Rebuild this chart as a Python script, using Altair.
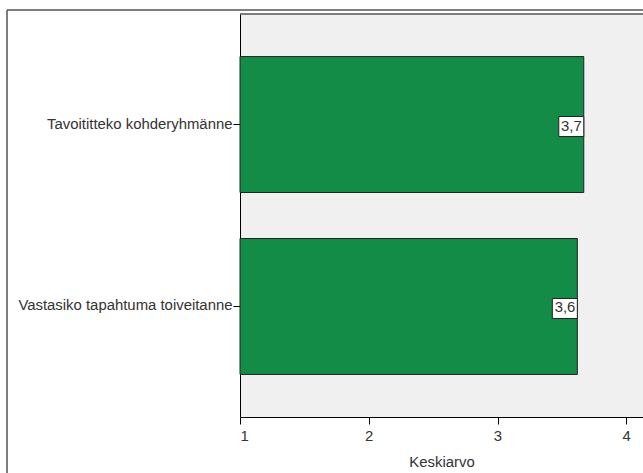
import altair as alt
import pandas as pd

categories = ["Tavoititteko kohderyhmänne", "Vastasiko tapahtuma toiveitanne"]
values = [3.67, 3.62]
labels = ["3,7", "3,6"]

df = pd.DataFrame({"cat": categories, "val": values, "lab": labels})

W, H = 403, 403
FS = 14.9
xscale = alt.Scale(domain=[1, 4.13], nice=False, zero=False)
yscale = alt.Scale(domain=categories, paddingInner=0.253, paddingOuter=0.234)

frame = alt.Chart(df).mark_rect(
    fill=None, stroke="#555555", strokeWidth=1, clip=False
).encode(
    x=alt.value(-233), x2=alt.value(W + 50), y=alt.value(-4), y2=alt.value(H + 100)
)

bars = alt.Chart(df).mark_bar(
    color="#128c47", stroke="#222222", strokeWidth=1
).encode(
    x=alt.X("val:Q", scale=xscale,
            axis=alt.Axis(title="Keskiarvo", values=[1, 2, 3, 4], format="d",
                          grid=False, tickSize=7, tickColor="#000000",
                          domainColor="#000000", labelColor="#333333",
                          labelFontSize=FS, titleFontSize=FS, titleColor="#333333",
                          titleFontWeight="normal", labelPadding=4, titlePadding=12,
                          labelFont="Liberation Sans", titleFont="Liberation Sans")),
    x2=alt.datum(1),
    y=alt.Y("cat:N", scale=yscale, sort=categories,
            axis=alt.Axis(title=None, tickSize=7, tickColor="#000000",
                          domainColor="#000000", labelColor="#333333",
                          labelFontSize=FS, labelPadding=1, labelLimit=300,
                          labelFont="Liberation Sans")),
)

topline = alt.Chart(df).mark_rule(color="#555555", strokeWidth=1).encode(
    x=alt.value(0), x2=alt.value(W), y=alt.value(0)
)

box_path = "M-1,-0.8H1V0.8H-1Z"
boxes = alt.Chart(df).mark_point(
    shape=box_path, filled=True, fill="white", stroke="#222222", strokeWidth=1,
    size=625, xOffset=-12.5, yOffset=2, opacity=1
).encode(
    x=alt.X("val:Q", scale=xscale),
    y=alt.Y("cat:N", scale=yscale, sort=categories),
)

texts = alt.Chart(df).mark_text(
    align="right", baseline="middle", dx=-2, dy=2, fontSize=FS,
    font="Liberation Sans", color="#333333"
).encode(
    x=alt.X("val:Q", scale=xscale),
    y=alt.Y("cat:N", scale=yscale, sort=categories),
    text="lab:N",
)

chart = alt.layer(frame, bars, topline, boxes, texts).properties(
    width=W, height=H,
    autosize=alt.AutoSizeParams(type="none"),
    padding={"left": 240, "top": 14, "right": 0, "bottom": 56},
    background="white",
).configure_view(fill="#f0f0f0", stroke=None)

chart.save("out.html", embed_options={"renderer": "svg", "actions": False})
